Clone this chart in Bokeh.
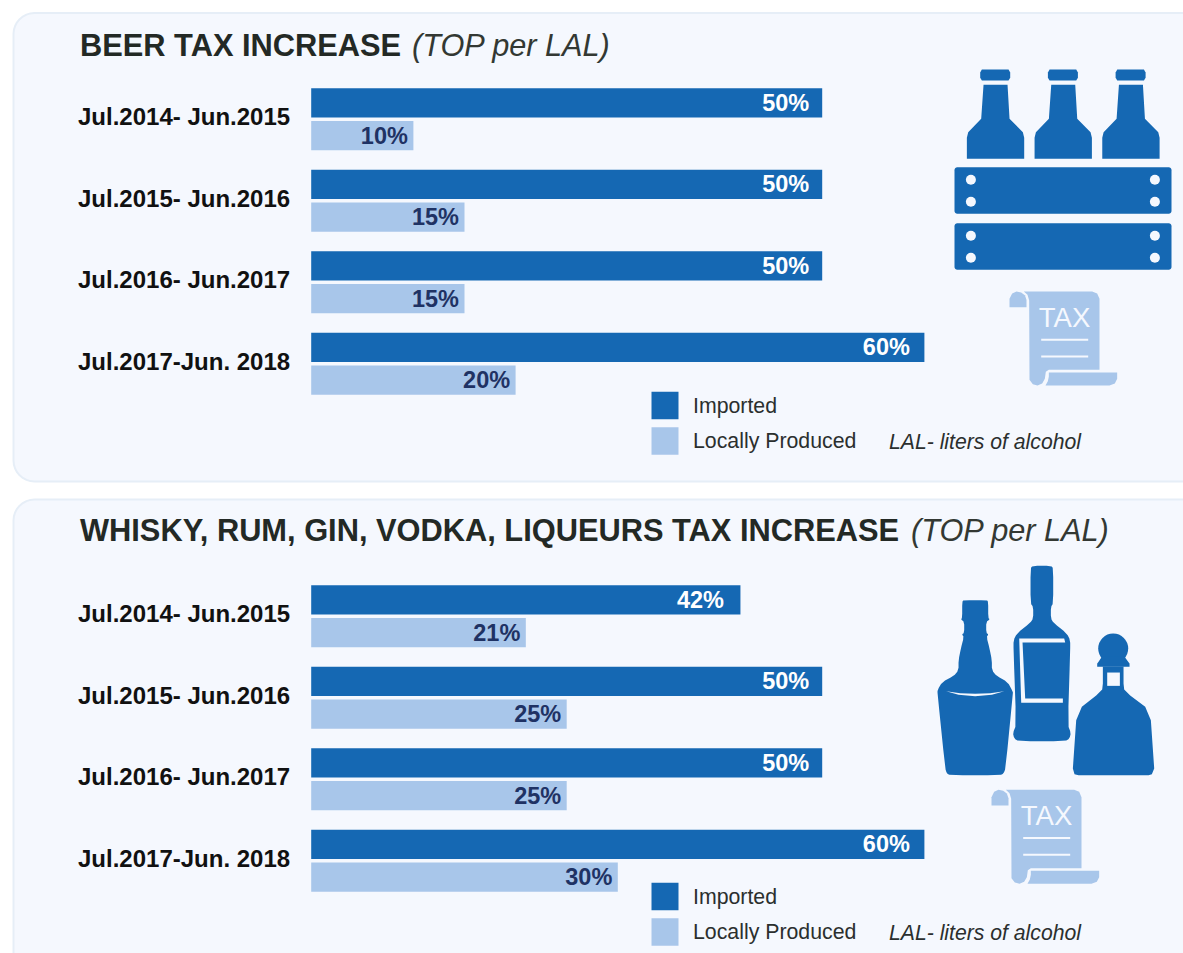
import numpy as np
from bokeh.plotting import figure
from bokeh.models import Range1d
from bokeh.core.properties import value
from bokeh.embed import file_html
from bokeh.resources import INLINE

periods = ["Jul.2014- Jun.2015", "Jul.2015- Jun.2016", "Jul.2016- Jun.2017", "Jul.2017-Jun. 2018"]
beer_imported = [50, 50, 50, 60]
beer_local = [10, 15, 15, 20]
spirits_imported = [42, 50, 50, 60]
spirits_local = [21, 25, 25, 30]
legend_labels = ["Imported", "Locally Produced"]
note = "LAL- liters of alcohol"
beer_title = "BEER TAX INCREASE"
spirits_title = "WHISKY, RUM, GIN, VODKA, LIQUEURS TAX INCREASE"
title_unit = "(TOP per LAL)"

DARK = "#1568B3"
LIGHT = "#A8C6EA"
PANEL = "#F5F8FE"
BORDER = "#E6EEF7"
NAVY = "#1F3264"
HEAD = "#232925"
FONT = value("Liberation Sans")

W, H = 1183, 953
PX_PER_PCT = 10.22
X0 = 310.7
p = figure(width=W, height=H, output_backend="svg", toolbar_location=None,
           x_range=Range1d(-X0 / PX_PER_PCT, (W - X0) / PX_PER_PCT),
           y_range=Range1d(H, 0), min_border=0, outline_line_color=None,
           background_fill_color="white", border_fill_color="white")
p.extra_x_ranges["px"] = Range1d(0, W)
p.xaxis.visible = False
p.yaxis.visible = False
p.grid.visible = False


def rounded(x0, y0, x1, y1, r):
    xs, ys = [], []
    for cx, cy, a0 in [(x1 - r, y0 + r, -90), (x1 - r, y1 - r, 0), (x0 + r, y1 - r, 90), (x0 + r, y0 + r, 180)]:
        t = np.radians(np.linspace(a0, a0 + 90, 9))
        xs += list(cx + r * np.cos(t))
        ys += list(cy + r * np.sin(t))
    return xs, ys


def smooth(pts, n=2):
    a = np.array(pts, float)
    for _ in range(n):
        b = np.roll(a, -1, axis=0)
        a = np.column_stack([0.75 * a + 0.25 * b, 0.25 * a + 0.75 * b]).reshape(-1, 2)
    return a


def shape(pts, ox, oy, dx=0, dy=0, color=DARK, sm=0):
    a = smooth(pts, sm) if sm else np.array(pts, float)
    p.patch(a[:, 0] / 3 + ox + dx, a[:, 1] / 3 + oy + dy, fill_color=color, line_color=None, x_range_name="px")


def panel(y0, y1, title, unit_x, imported, local, row_top, legend_top, title_y):
    xs, ys = rounded(13, y0, 1260, y1, 21)
    p.patch(xs, ys, fill_color=PANEL, line_color=BORDER, line_width=2, x_range_name="px")
    p.text([79.5], [title_y], text=[title], text_font=FONT, text_font_style="bold", text_font_size="30.8px",
           text_color=HEAD, text_baseline="middle", x_range_name="px")
    p.text([unit_x], [title_y], text=[title_unit], text_font=FONT, text_font_style="italic",
           text_font_size="30.7px", text_color="#333833", text_baseline="middle", x_range_name="px")
    tops = [row_top + i * 81.5 for i in range(4)]
    c1 = [t + 14.5 for t in tops]
    c2 = [t + 47.3 for t in tops]
    p.hbar(y=c1, right=imported, left=0, height=29.2, fill_color=DARK, line_color=None)
    p.hbar(y=c2, right=local, left=0, height=29.2, fill_color=LIGHT, line_color=None)
    # the source's labels sit a little further in on the wider bars and on the 42% bar
    nudge = {42: -16.5, 50: -13, 60: -14.5}
    p.text(x=imported, y=c1, text=[f"{v}%" for v in imported], text_align="right", text_baseline="middle",
           text_font=FONT, text_font_style="bold", text_font_size="23.5px", text_color="white",
           x_offset=[nudge[v] for v in imported])
    p.text(x=local, y=c2, text=[f"{v}%" for v in local], text_align="right", text_baseline="middle",
           text_font=FONT, text_font_style="bold", text_font_size="23.5px", text_color=NAVY, x_offset=-5.5)
    p.text([77.5] * 4, [t + 28.5 for t in tops], text=periods, text_baseline="middle", text_font=FONT,
           text_font_style="bold", text_font_size="24px", text_color="#111111", x_range_name="px")
    ly = [legend_top + 13.5, legend_top + 49]
    p.rect([664.5] * 2, ly, width=27, height=27.5, fill_color=[DARK, LIGHT], line_color=None, x_range_name="px")
    p.text([692.5] * 2, ly, text=legend_labels, text_baseline="middle", text_font=FONT, text_font_size="21.3px",
           text_color="#2B2F2E", x_range_name="px")
    p.text([888.5], [ly[1]], text=[note], text_baseline="middle", text_font=FONT, text_font_style="italic",
           text_font_size="21.2px", text_color="#2B2F2E", x_range_name="px")


panel(12.5, 481, beer_title, 411.5, beer_imported, beer_local, 87.8, 391.5, 45.3)
panel(499, 1100, spirits_title, 910.5, spirits_imported, spirits_local, 584.8, 882.5, 529.8)

# beer crate icon (outlines measured at 3x, origin 930,50)
bottle = [(150, 66), (155, 57), (235, 57), (240, 66), (240, 82), (235, 90), (155, 90), (150, 82)]
body = [(160, 103), (232, 103), (238, 205), (278, 245), (282, 262), (282, 325), (110, 325), (110, 262),
        (114, 245), (153, 205)]
for k in range(3):
    shape(bottle, 929.7, 50, dx=k * 67.7)
    shape(body, 929.7, 50, dx=k * 67.7)
for top, bot in [(166.7, 213.3), (222.7, 269.3)]:
    xs, ys = rounded(954, top, 1171, bot, 3)
    p.patch(xs, ys, fill_color=DARK, line_color=None, x_range_name="px")
    p.scatter([970.4, 970.4, 1154.4, 1154.4], [top + 12.5, top + 34.5, top + 12.5, top + 34.5], size=10,
              fill_color=PANEL, line_color=None, x_range_name="px")


def scroll(dx, dy):
    curl = [(237, 770), (288, 770), (288, 748), (283, 734), (272, 726), (258, 723), (245, 729), (237, 745)]
    sheet = [(280, 723), (485, 723), (500, 729), (507, 745), (507, 958), (355, 958), (346, 964), (343, 985),
             (335, 999), (321, 1005), (307, 1001), (297, 988), (296, 750), (291, 733)]
    foot = [(355, 966), (560, 966), (560, 985), (553, 999), (537, 1005), (345, 1005), (352, 992), (355, 978)]
    for s in (curl, sheet, foot):
        shape(s, 930, 50, dx=dx, dy=dy, color=LIGHT)
    p.text([1064 + dx], [316.5 + dy], text=["TAX"], text_align="center", text_baseline="middle", text_font=FONT,
           text_font_size="27.5px", text_color=PANEL, x_range_name="px")
    for y in (339.3, 356):
        p.segment([1040.7 + dx], [y + dy], [1087.7 + dx], [y + dy], line_color=PANEL, line_width=2, x_range_name="px")


scroll(0, 0)
scroll(-18, 498.3)

# spirits icon (outlines measured at 3x, origin 920,550)
left_bottle = [(126, 155), (130, 150), (200, 150), (204, 155), (204, 203), (209, 208), (198, 215), (198, 248),
               (205, 253), (199, 260), (208, 295), (215, 330), (215, 360), (230, 378), (262, 395), (278, 425),
               (278, 430), (256, 655), (250, 670), (240, 675), (90, 675), (80, 670), (75, 655), (52, 430),
               (52, 420), (66, 395), (100, 378), (115, 360), (115, 330), (122, 295), (131, 260), (125, 253),
               (132, 248), (132, 215), (122, 208), (126, 203)]
shape(left_bottle, 919.7, 549.7, sm=1)
shine = [(78, 423), (120, 429), (165, 431), (210, 429), (252, 423), (215, 434), (165, 438), (115, 434)]
shape(shine, 919.7, 549.7, color=PANEL)
mid_bottle = [(331, 55), (337, 47), (393, 47), (399, 55), (399, 160), (392, 170), (392, 205), (400, 218),
              (440, 250), (450, 270), (450, 300), (443, 525), (452, 548), (448, 565), (435, 573), (295, 573),
              (282, 565), (278, 548), (288, 525), (280, 300), (280, 270), (290, 250), (330, 218), (339, 205),
              (339, 170), (331, 160)]
shape(mid_bottle, 919.7, 549.7, sm=1)
label = [(297, 265), (432, 265), (435, 277), (307, 277), (315, 445), (428, 445), (428, 458), (303, 458)]
shape(label, 919.7, 549.7, color=PANEL)
p.scatter([919.7 + 579 / 3], [549.7 + 295 / 3], size=30, fill_color=DARK, line_color=None, x_range_name="px")
shape([(545, 320), (613, 320), (625, 336), (628, 340), (628, 350), (531, 350), (531, 340), (534, 336)], 919.7, 549.7)
right_bottle = [(548, 349), (610, 349), (610, 400), (612, 418), (630, 436), (675, 470), (692, 510), (702, 655),
                (695, 672), (685, 675), (475, 675), (463, 672), (458, 655), (468, 510), (485, 470), (528, 436),
                (546, 418), (548, 400)]
shape(right_bottle, 919.7, 549.7)
shape([(561, 367), (599, 367), (599, 407), (561, 407)], 919.7, 549.7, color=PANEL)

open("out.html", "w").write(file_html(p, INLINE))
